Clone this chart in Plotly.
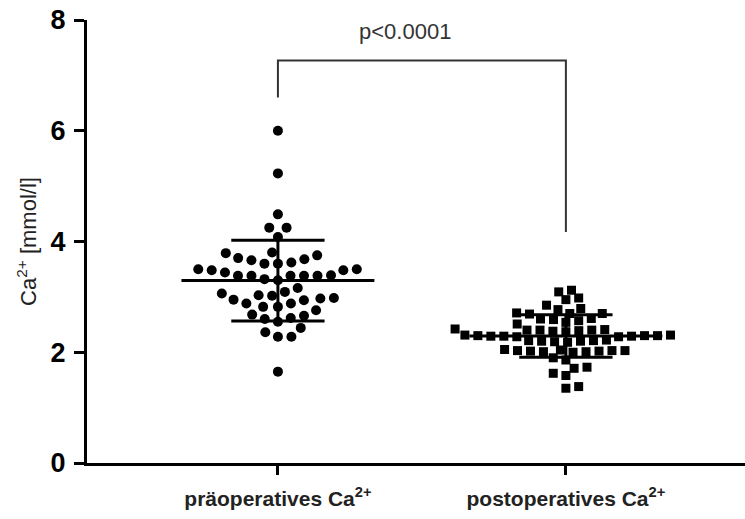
import numpy as np
import plotly.graph_objects as go

# ---- data -------------------------------------------------------------
categories = ["präoperatives Ca<sup>2+</sup>", "postoperatives Ca<sup>2+</sup>"]

pre_values = [
    6.00, 5.23, 4.49, 4.25, 4.25, 4.08,
    3.80, 3.75, 3.68, 3.62, 3.60, 3.60, 3.66, 3.70, 3.79,
    3.50, 3.48, 3.48, 3.50, 3.44,
    3.39, 3.38, 3.38, 3.38, 3.38, 3.38, 3.32, 3.30,
    3.16, 3.09,
    3.06, 3.02, 2.98, 2.95, 2.88, 2.94, 2.97, 3.03,
    2.82, 2.82, 2.88, 2.76,
    2.68, 2.62, 2.55, 2.60, 2.66,
    2.44,
    2.28, 2.28, 2.36,
    1.65,
]

post_values = [
    3.12, 3.09,
    2.98, 2.95,
    2.85,
    2.79, 2.77,
    2.71, 2.70, 2.70, 2.69,
    2.61, 2.60, 2.59,
    2.57, 2.54, 2.51,
    2.42, 2.40, 2.40, 2.39, 2.38, 2.37, 2.40, 2.41,
    2.31, 2.31, 2.30, 2.30, 2.29, 2.29, 2.30, 2.28, 2.28, 2.29,
    2.22, 2.21, 2.20, 2.19, 2.18, 2.20, 2.21,
    2.05, 2.04, 2.03, 2.03, 2.02, 2.02, 2.01, 2.01, 2.00, 2.03,
    1.90, 1.86,
    1.73, 1.71,
    1.62, 1.58,
    1.38, 1.35,
]

y_ticks = [0, 2, 4, 6, 8]
p_label = "p<0.0001"

# ---- layout geometry ----------------------------------------------------
W, H = 745, 519
M_L, M_R, M_T, M_B = 87, 0, 20, 56
X_RANGE = [-0.663, 1.622]
Y_RANGE = [0, 8]
px_per_x = (W - M_L - M_R) / (X_RANGE[1] - X_RANGE[0])
px_per_y = (H - M_T - M_B) / (Y_RANGE[1] - Y_RANGE[0])


def swarm_offsets(values, diameter_px, y_stretch):
    """Greedy beeswarm with an elliptical collision distance.

    y_stretch > 1 lets points that differ a little in value share a column.
    Ties between left and right alternate so the swarm stays symmetric.
    """
    vals = np.asarray(values, dtype=float)
    order = np.argsort(vals)
    placed = []
    offsets = np.zeros(len(vals))
    d2 = diameter_px ** 2
    side = 1
    for i in order:
        y = vals[i] * px_per_y * y_stretch
        cands = [0.0]
        for xj, yj in placed:
            dy = abs(y - yj)
            if dy < diameter_px:
                dx = np.sqrt(d2 - dy ** 2)
                cands += [xj + dx, xj - dx]
        cands.sort(key=lambda c: (round(abs(c), 3), -side * c))
        chosen = cands[-1]
        for c in cands:
            if all((c - xj) ** 2 + (y - yj) ** 2 >= d2 - 1e-6 for xj, yj in placed):
                chosen = c
                break
        if abs(chosen) > 1e-6:
            side = -1 if chosen > 0 else 1
        placed.append((chosen, y))
        offsets[i] = chosen / px_per_x
    return offsets


fig = go.Figure()

groups = [
    (pre_values, "circle", 10, 13.5, 1.1),
    (post_values, "square", 9, 13.0, 1.4),
]
for idx, (vals, symbol, msize, dia, stretch) in enumerate(groups):
    offs = swarm_offsets(vals, dia, stretch)
    fig.add_trace(go.Scatter(
        x=idx + offs, y=vals, mode="markers",
        marker=dict(symbol=symbol, size=msize, color="black", line=dict(width=0)),
        showlegend=False, hoverinfo="y",
    ))

    mean = float(np.mean(vals))
    sd = float(np.std(vals, ddof=1))
    line_style = dict(color="black", width=3)
    # mean line
    fig.add_trace(go.Scatter(x=[idx - 0.335, idx + 0.335], y=[mean, mean],
                             mode="lines", line=line_style,
                             showlegend=False, hoverinfo="skip"))
    # SD whisker
    fig.add_trace(go.Scatter(x=[idx, idx], y=[mean - sd, mean + sd],
                             mode="lines", line=line_style,
                             showlegend=False, hoverinfo="skip"))
    for yv in (mean - sd, mean + sd):
        fig.add_trace(go.Scatter(x=[idx - 0.162, idx + 0.162], y=[yv, yv],
                                 mode="lines", line=line_style,
                                 showlegend=False, hoverinfo="skip"))

# significance bracket
fig.add_shape(type="path", xref="x", yref="y",
              path="M 0,6.6 L 0,7.27 L 1,7.27 L 1,4.17",
              line=dict(color="#333333", width=2))
fig.add_annotation(x=0.44, y=7.8, xref="x", yref="y", text=p_label,
                   showarrow=False,
                   font=dict(family="Liberation Sans", size=22, color="#333333"))

fig.update_layout(
    width=W, height=H,
    margin=dict(l=M_L, r=M_R, t=M_T, b=M_B, pad=0),
    paper_bgcolor="white", plot_bgcolor="white",
    xaxis=dict(
        range=X_RANGE, tickmode="array", tickvals=[0, 1], ticktext=categories,
        showline=True, linecolor="black", linewidth=3,
        ticks="outside", ticklen=9, tickwidth=3, tickcolor="black",
        showgrid=False, zeroline=False, ticklabelstandoff=6,
        tickfont=dict(family="Liberation Sans", size=21, color="#222222",
                      weight="bold"),
    ),
    yaxis=dict(
        range=Y_RANGE, tickmode="array", tickvals=y_ticks,
        showline=True, linecolor="black", linewidth=3,
        ticks="outside", ticklen=10, tickwidth=3, tickcolor="black",
        showgrid=False, zeroline=False, ticklabelstandoff=3,
        tickfont=dict(family="Liberation Sans", size=27, color="black",
                      weight="bold"),
        title=dict(text="Ca<sup>2+</sup> [mmol/l]", standoff=8,
                   font=dict(family="Liberation Sans", size=22, color="#222222")),
    ),
)

fig.write_html("out.html")
